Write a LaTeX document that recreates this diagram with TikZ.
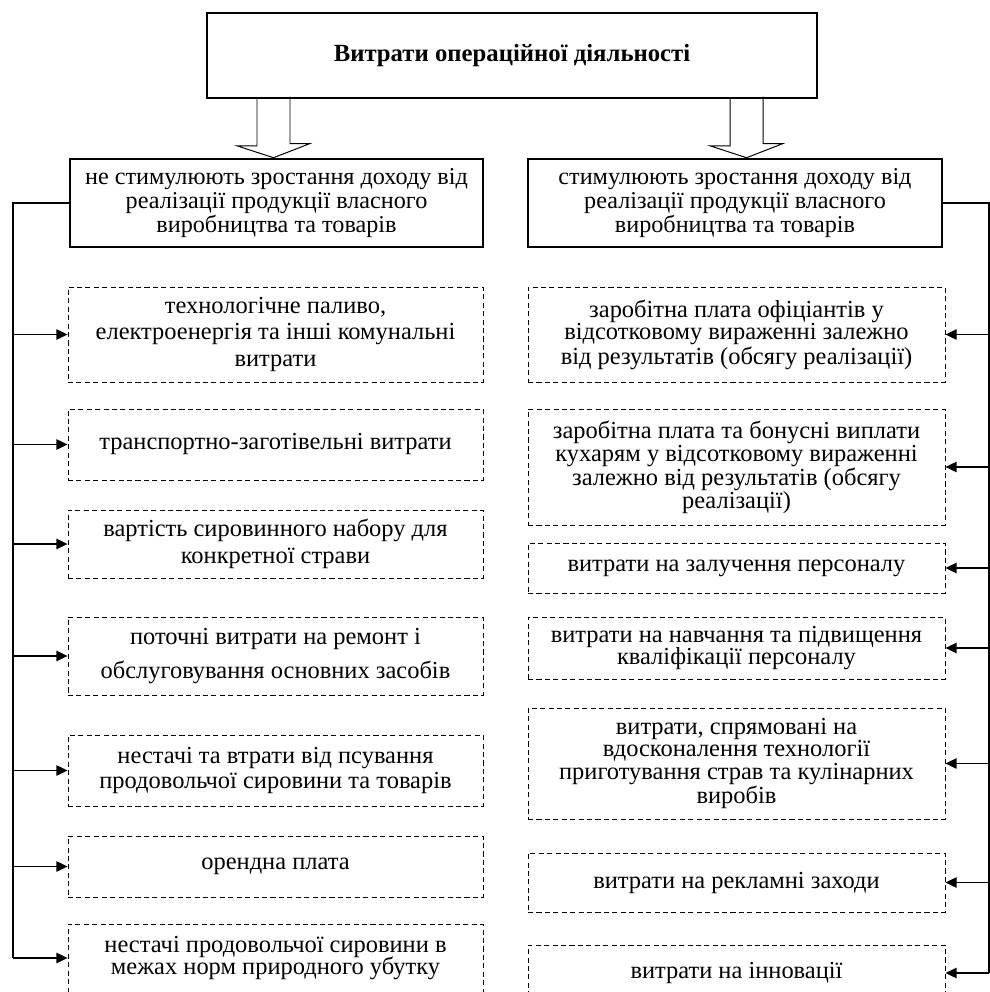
\documentclass[tikz,border=0pt]{standalone}
\usepackage{fontspec}
\setmainfont{Liberation Serif}
\usetikzlibrary{arrows.meta}

\begin{document}
\begin{tikzpicture}[
    cat/.style={draw, dashed, dash pattern=on 3.6pt off 2.4pt, line width=0.6pt,
        align=center, inner sep=0pt, font=\fontsize{17.4}{16.2}\selectfont},
    leftbox/.style={cat, minimum width=10.375cm},
    rightbox/.style={cat, minimum width=10.425cm},
    head/.style={draw, line width=1.8pt, align=center, inner sep=0pt,
        minimum height=2.2cm, font=\fontsize{17.2}{17.2}\selectfont},
    hollow/.style={line width=0.7pt},
    link/.style={-{Triangle[length=2.8mm,width=2.6mm]}, line width=1pt}
]
    \useasboundingbox (0,0) rectangle (24.75,-24.8);
    \clip (0,0) rectangle (24.75,-24.8);

    \node[draw, line width=1.4pt, minimum width=15.25cm, minimum height=2.125cm,
        font=\bfseries\fontsize{17.6}{19}\selectfont] (top) at (12.8,-1.3875) {Витрати операційної діяльності};

    \node[head, minimum width=10.325cm] (lhead) at (6.9125,-5.075) {не стимулюють зростання доходу від\\реалізації продукції власного\\виробництва та товарів};
    \node[head, minimum width=10.35cm] (rhead) at (18.375,-5.075) {стимулюють зростання доходу від\\реалізації продукції власного\\виробництва та товарів};

    \coordinate (ltip) at ([xshift=-0.075cm]lhead.north);
    \coordinate (rtip) at ([xshift=0.2875cm]rhead.north);
    \draw[hollow] (ltip |- top.south) ++(-0.4125,0) -- ++(0,-1.175) -- ++(-0.4875,0) -- (ltip)
        -- ++(0.9,0.35) -- ++(-0.4875,0) -- ++(0,1.175);
    \draw[hollow] (rtip |- top.south) ++(-0.4125,0) -- ++(0,-1.175) -- ++(-0.4875,0) -- (rtip)
        -- ++(0.9,0.35) -- ++(-0.4875,0) -- ++(0,1.175);

    \node[leftbox, minimum height=2.375cm] (l1) at (6.8875,-8.3625) {технологічне паливо,\\[3pt]електроенергія та інші комунальні\\[3pt]витрати};
    \node[leftbox, minimum height=1.775cm] (l2) at (6.8875,-11.1125) {транспортно-заготівельні витрати};
    \node[leftbox, minimum height=1.7cm] (l3) at (6.8875,-13.6) {вартість сировинного набору для\\[3pt]конкретної страви};
    \node[leftbox, minimum height=1.95cm] (l4) at (6.8875,-16.4) {поточні витрати на ремонт і\\[8pt]обслуговування основних засобів};
    \node[leftbox, minimum height=1.775cm] (l5) at (6.8875,-19.2625) {нестачі та втрати від псування\\[2pt]продовольчої сировини та товарів};
    \node[leftbox, minimum height=1.525cm] (l6) at (6.8875,-21.6625) {орендна плата};
    \node[leftbox, minimum height=1.7cm] (l7) at (6.8875,-23.95) {нестачі продовольчої сировини в\\межах норм природного убутку};

    \node[rightbox, minimum height=2.375cm] (r1) at (18.4125,-8.3625) {заробітна плата офіціантів у\\відсотковому вираженні залежно\\від результатів (обсягу реалізації)};
    \node[rightbox, minimum height=2.9cm] (r2) at (18.4125,-11.675) {заробітна плата та бонусні виплати\\кухарям у відсотковому вираженні\\залежно від результатів (обсягу\\реалізації)};
    \node[rightbox, minimum height=1.25cm] (r3) at (18.4125,-14.2) {витрати на залучення персоналу};
    \node[rightbox, minimum height=1.55cm] (r4) at (18.4125,-16.2) {витрати на навчання та підвищення\\кваліфікації персоналу};
    \node[rightbox, minimum height=2.775cm] (r5) at (18.4125,-19.0875) {витрати, спрямовані на\\вдосконалення технології\\приготування страв та кулінарних\\виробів};
    \node[rightbox, minimum height=1.475cm] (r6) at (18.4125,-22.0625) {витрати на рекламні заходи};
    \node[rightbox, minimum height=1.4cm] (r7) at (18.4125,-24.325) {витрати на інновації};

    \coordinate (lbus) at (0.325,0);
    \coordinate (rbus) at (24.72,0);
    \draw[line width=1pt] (lhead.west) -- (lbus |- lhead.west) -- (lbus |- l7.west);
    \draw[line width=1pt] (rhead.east) -- (rbus |- rhead.east) -- (rbus |- r7.east);
    \foreach \n in {1,...,7} {
        \draw[link] (lbus |- l\n.west) -- (l\n.west);
        \draw[link] (rbus |- r\n.east) -- (r\n.east);
    }
\end{tikzpicture}
\end{document}
